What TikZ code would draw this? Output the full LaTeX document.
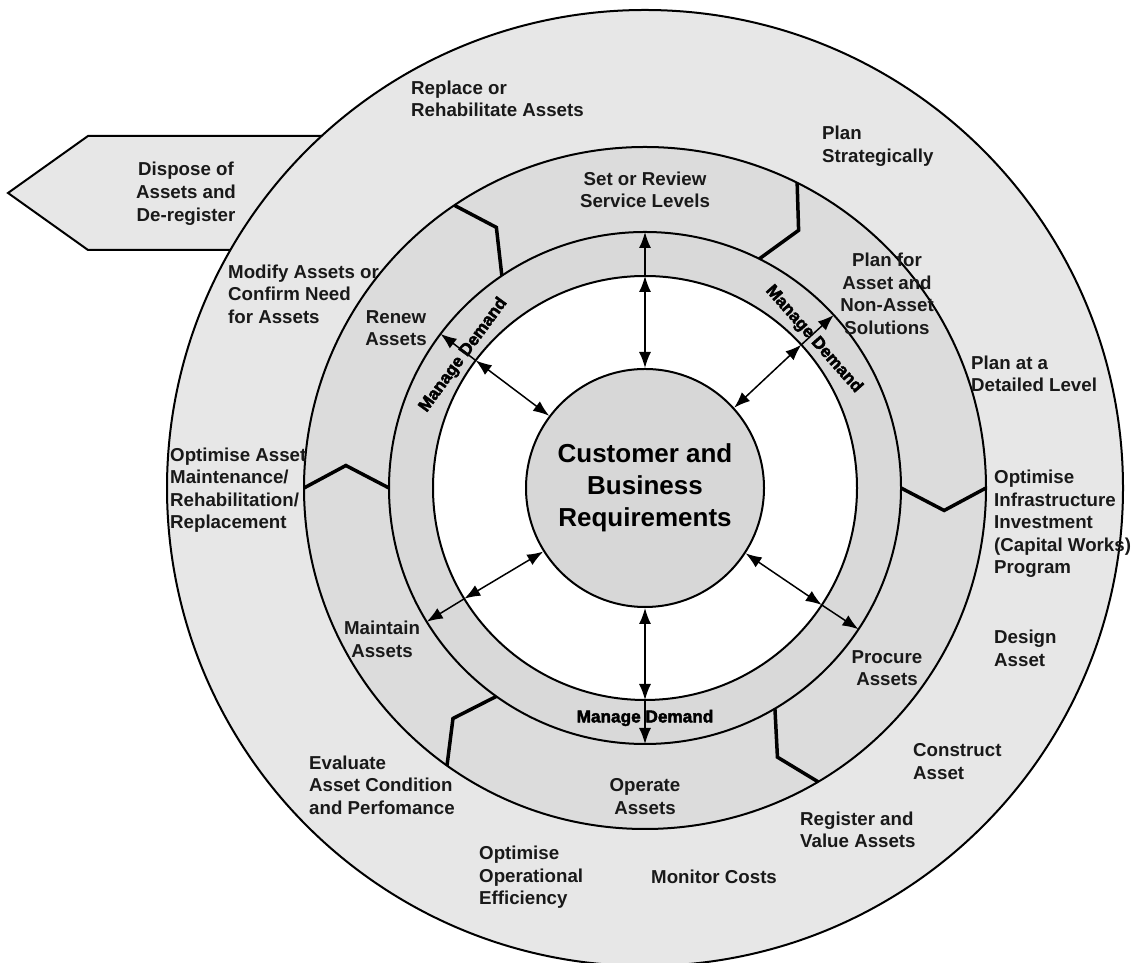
\documentclass[tikz,border=0pt]{standalone}
\usepackage{fontspec}
\setmainfont{Liberation Sans}
\newfontfamily\heavyfont[BoldFeatures={FakeBold=2.5}]{Liberation Sans}
\usetikzlibrary{arrows.meta,calc}

\definecolor{outerg}{HTML}{E7E7E7}
\definecolor{procg}{HTML}{DCDCDC}
\definecolor{demg}{HTML}{D9D9D9}
\definecolor{custg}{HTML}{D7D7D7}

\begin{document}
\begin{tikzpicture}[x=1pt,y=1pt,
  lbl/.style={font=\bfseries\fontsize{18.7}{22.5}\selectfont, inner sep=0pt, text=black!90},
  lbll/.style={lbl, align=left, anchor=west},
  lblc/.style={lbl, align=center},
  ring/.style={draw=black, line width=2pt},
  sepline/.style={draw=black, line width=3.5pt, line join=miter},
  biarr/.style={draw=black, line width=1.5pt, arrows={Latex[length=16pt,width=12pt]-Latex[length=16pt,width=12pt]}},
  outarr/.style={draw=black, line width=1.5pt, arrows={-Latex[length=16pt,width=12pt]}},
  demand/.style={font=\heavyfont\bfseries\fontsize{17.2}{20}\selectfont, inner sep=0pt}
]
\useasboundingbox (0,0) rectangle (1146,963);
\coordinate (C) at (645,475);

% dispose arrow
\draw[fill=outerg, line width=2pt, line join=miter] (8,770) -- (88,827) -- (340,827) -- (340,713) -- (88,713) -- cycle;

% rings
\draw[ring, fill=outerg] (C) circle[radius=478];
\draw[ring, fill=procg] (C) circle[radius=341];
\draw[ring, fill=demg] (C) circle[radius=256];
\draw[ring, fill=white] (C) circle[radius=212];
\node[circle, draw=black, line width=2pt, fill=custg, minimum size=238pt, inner sep=0pt, align=center,
      font=\bfseries\fontsize{26}{32}\selectfont] (cust) at (C) {Customer and\\Business\\Requirements};

% separators of the process ring
\foreach \t in {180,124,63.5,0,-59.5,-125.5}
  \draw[sepline] ($(C)+(\t:341)$) -- ($(C)+({\t-4.3}:300)$) -- ($(C)+(\t:256)$);

% arrows
\foreach \a [count=\i] in {90,42.5,-33.5,-90,-148.5,143} {
  \coordinate (m\i) at ($(C)+(\a:212)$);
  \coordinate (o\i) at ($(C)+(\a:256)$);
  \draw[biarr] (cust.\a) -- (m\i);
  \draw[outarr] (m\i) -- (o\i);
}

% manage demand
\node[demand, rotate=53.8] (md1) at ($(C)+(143.8:225)$) {Manage Demand};
\node[demand, rotate=-48.6] (md2) at ($(C)+(41.4:225)$) {Manage Demand};
\node[demand] (md3) at ($(C)+(-90:230)$) {Manage Demand};

% labels
\node[lblc, font=\bfseries\fontsize{18.7}{23}\selectfont] (dis) at (186,769) {Dispose of\\Assets and\\De-register};
\node[lbll] (rep) at (411,864) {Replace or\\Rehabilitate Assets};
\node[lbll] (pst) at (822,817) {Plan\\Strategically};
\node[lblc] (srs) at (645,773) {Set or Review\\Service Levels};
\node[lblc] (pan) at (887,669) {Plan for\\Asset and\\Non-Asset\\Solutions};
\node[lbll] (pdl) at (971,589) {Plan at a\\Detailed Level};
\node[lbll] (oii) at (994,439) {Optimise\\Infrastructure\\Investment\\(Capital Works)\\Program};
\node[lbll] (des) at (994,314.5) {Design\\Asset};
\node[lblc] (pro) at (887,295) {Procure\\Assets};
\node[lbll] (con) at (913,201.5) {Construct\\Asset};
\node[lbll] (reg) at (800,133) {Register and\\Value Assets};
\node[lbll] (mon) at (651,86) {Monitor Costs};
\node[lblc] (ope) at (645,166.5) {Operate\\Assets};
\node[lbll] (ooe) at (479,85.5) {Optimise\\Operational\\Efficiency};
\node[lbll] (eva) at (309,178) {Evaluate\\Asset Condition\\and Perfomance};
\node[lblc] (mai) at (382,323.5) {Maintain\\Assets};
\node[lbll] (oam) at (170,473) {Optimise Asset\\Maintenance/\\Rehabilitation/\\Replacement};
\node[lbll] (mod) at (228,669) {Modify Assets or\\Confirm Need\\for Assets};
\node[lblc] (ren) at (396,635) {Renew\\Assets};
\end{tikzpicture}
\end{document}
